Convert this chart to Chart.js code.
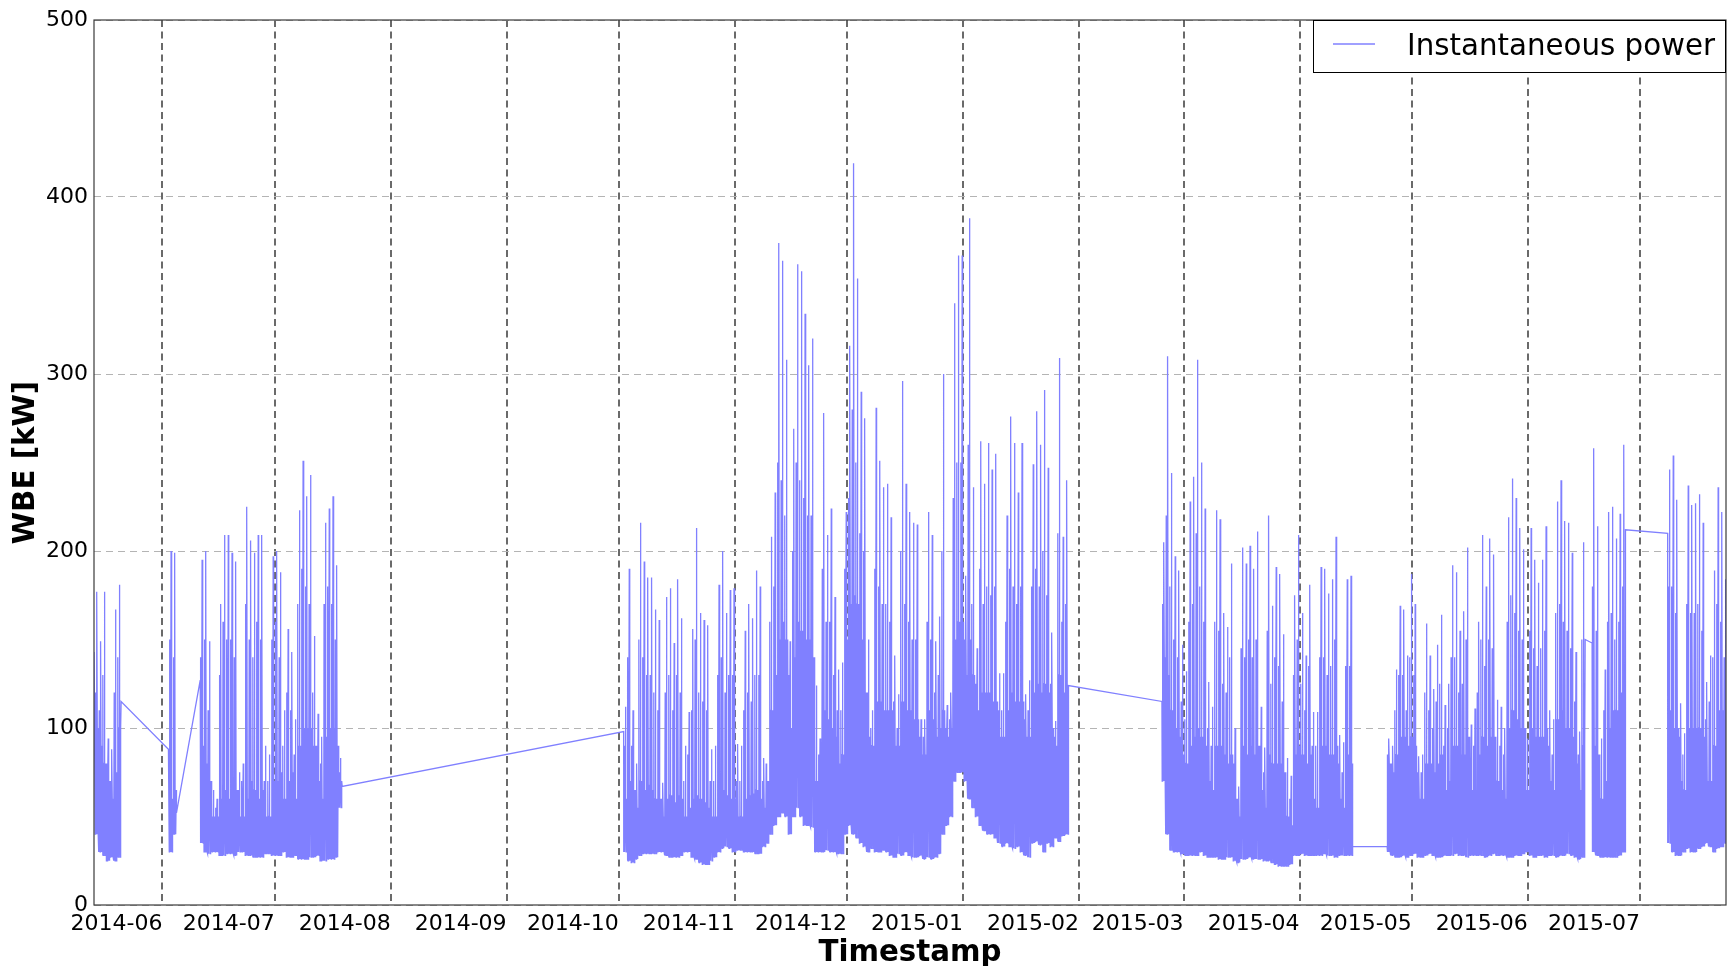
<!DOCTYPE html>
<html><head><meta charset="utf-8">
<script src="https://cdn.jsdelivr.net/npm/chart.js@4.4.1/dist/chart.umd.min.js"></script>
<style>html,body{margin:0;padding:0;background:#fff;}canvas{display:block;}</style>
</head><body>
<canvas id="c" width="1733" height="966"></canvas>
<script>
// x values are days since 2014-06-01
const monthLabels = ['2014-06','2014-07','2014-08','2014-09','2014-10','2014-11','2014-12','2015-01','2015-02','2015-03','2015-04','2015-05','2015-06','2015-07'];
const monthDays = [0,30,61,92,122,153,183,214,245,273,304,334,365,395];
const yTicks = [0,100,200,300,400,500];

// recording periods (start day, first/last samples around each gap)
const segStart    = [-18, 1.8, 10.1, 123.3, 267.25, 327.4, 382.2, 402.4];
const segFirstDay = [-18.3, 1.6, 10.1, 123.3, 267.2, 327.4, 382.2, 402.4];
const segFirstVal = [143, 88, 127, 98, 115, 33, 148, 210];
const segLastDay  = [-11.05, 3.75, 48.05, 242.25, 318.2, 380.35, 391.15, 418.5];
const segLastVal  = [115, 52, 67, 124, 33, 150, 212, 150];

// daily peak / secondary peak / typical daytime level / night minimum (kW)
const hiA  = [177,149,177,94,88,167,181];
const subA = [120,110,130,80,70,120,140];
const midA = [100,90,80,70,60,75,100];
const loA  = [40,30,28,25,27,25,27];

const hiB  = [200,199];
const subB = [150,140];
const midB = [60,65];
const loB  = [30,40];

const hiC  = [195,200,149,65,60,170,209,209,199,194,75,80,225,206,199,209,209,90,85,197,200,188,110,156,143,105,223,251,231,243,152,108,95,216,224,231,192,83];
const subC = [140,150,110,60,55,130,160,150,150,140,65,70,170,150,140,160,150,70,70,150,160,140,90,120,110,85,170,190,180,170,120,90,80,170,180,170,150,75];
const midC = [90,80,70,50,50,60,65,60,70,65,50,50,60,70,65,60,65,50,50,70,70,75,60,70,75,60,90,100,100,100,90,70,60,95,100,100,90,70];
const loC  = [35,30,29,30,30,28,28,29,29,28,30,30,28,28,27,27,27,29,29,28,28,28,30,27,27,28,26,26,26,27,27,28,25,25,26,26,27,55];

const hiD  = [112,190,110,80,216,194,185,185,167,161,69,174,179,148,184,162,90,109,156,213,165,161,158,88,90,181,200,165,178,179,91,90,155,170,162,189,180,83,69,208,233,374,364,308,149,269,362,358,334,305,320,124,94,278,209,224,174,133,137,222,316,419,354,290,275,150,110,281,251,236,238,219,141,119,296,238,222,216,215,105,105,222,209,149,163,300,113,120,340,367,367,186,388,236,145,262,238,261,246,255,131,131,220,276,261,233,261,119,127,249,279,260,291,247,154,104,309,208,240];
const subD = [90,140,90,65,150,140,130,130,120,110,60,120,130,110,130,120,70,85,110,150,120,115,110,70,70,130,140,120,130,130,70,70,110,120,115,130,130,70,80,160,180,250,240,220,130,200,250,240,230,220,220,100,85,190,160,160,130,110,110,190,230,280,250,210,200,120,100,190,180,170,170,160,115,100,200,170,160,150,150,95,95,160,150,120,130,200,100,105,230,250,250,150,260,170,125,190,170,180,175,180,110,110,160,190,180,170,180,105,110,180,190,180,200,175,125,95,210,160,170];
const midD = [60,70,65,55,70,65,68,65,60,60,50,60,62,58,62,60,50,55,60,62,60,58,55,50,50,58,65,62,60,60,50,50,60,62,63,65,60,55,70,110,130,150,160,150,100,140,160,155,150,150,140,70,65,110,105,100,95,80,85,150,170,175,170,150,120,95,90,115,115,110,110,110,90,90,115,110,110,105,105,85,85,110,105,95,100,110,95,100,150,160,160,130,150,130,110,120,120,120,115,115,95,95,110,120,115,115,115,95,95,120,125,120,125,120,100,90,130,120,120];
const loD  = [30,25,24,26,28,29,29,29,29,30,30,28,27,27,27,28,30,30,27,26,24,23,23,25,27,30,32,33,32,30,31,31,30,30,30,29,29,33,35,40,45,50,52,50,40,50,55,50,45,45,44,30,30,30,31,30,30,29,29,40,45,40,38,35,33,30,32,30,30,31,30,28,27,29,28,30,28,27,27,28,26,27,26,27,29,40,45,50,70,75,75,70,60,55,50,45,42,40,40,38,35,33,35,33,32,33,30,28,27,35,36,34,30,35,33,38,36,39,40];

const hiE  = [205,310,244,197,189,147,132,228,242,308,250,224,126,112,223,218,165,157,193,100,67,202,193,203,190,211,112,89,220,169,191,187,153,83,73,175,209,165,141,181,109,109,191,190,176,184,208,96,92,184,186];
const subE = [170,220,180,150,140,115,105,160,170,210,180,160,100,90,160,155,125,120,140,80,60,145,140,150,140,150,90,75,155,125,140,135,115,65,60,130,150,125,110,135,90,90,140,140,130,135,150,80,75,135,135];
const midE = [140,130,110,100,95,85,80,90,95,100,95,90,70,65,90,90,85,80,85,60,50,90,85,90,85,90,65,55,85,80,80,80,75,50,45,85,90,85,80,85,60,55,90,90,85,85,90,60,55,85,80];
const loE  = [70,40,31,30,30,29,28,28,28,28,30,28,27,27,27,26,26,27,27,25,24,26,26,27,26,26,26,25,25,24,23,22,22,22,23,28,28,29,28,28,28,28,28,29,28,28,27,28,28,28,28];

const hiF1  = [94,90,133,169,167,141,187,170,84,85,159,141,122,147,164,113,125,192,188,155,166,202,102,111,160,209,180,207,198,116,112,100,219,241,230,213,201,94,213,195,182,195,214,110,105,228,240,217,216,199,143,98,205];
const subF1 = [85,80,110,130,130,110,140,130,75,75,120,110,100,115,125,90,100,140,140,120,125,150,85,90,120,150,135,150,145,95,90,85,160,175,165,155,150,80,155,145,135,145,155,90,85,165,170,160,155,145,115,85,150];
const midF1 = [80,75,85,95,95,90,95,90,60,60,80,80,75,80,85,65,70,90,90,85,85,95,65,65,85,95,90,95,95,70,65,60,100,110,105,100,100,65,100,95,95,95,100,70,65,105,110,100,100,95,80,65,90];
const loF1  = [30,28,27,27,28,27,28,29,27,27,28,29,28,27,27,28,28,28,29,28,28,27,28,28,28,28,27,28,29,28,28,28,27,27,28,28,29,30,28,27,28,28,27,28,28,27,28,28,29,28,27,26,27];

const hiF2  = [258,214,94,133,222,225,207,221,260];
const subF2 = [180,155,80,110,160,165,150,160,180];
const midF2 = [90,85,60,70,100,110,110,120,130];
const loF2  = [30,28,27,27,27,27,27,28,30];

const hiG  = [246,254,229,114,97,237,226,227,232,216,126,141,189,236,222,184];
const subG = [180,180,165,95,85,170,165,165,170,155,105,115,140,170,160,140];
const midG = [110,100,100,70,65,100,100,100,100,95,70,70,90,110,110,120];
const loG  = [35,30,28,28,30,32,30,30,32,33,35,33,30,32,33,35];

const segHi  = [hiA, hiB, hiC, hiD, hiE, hiF1, hiF2, hiG];
const segSub = [subA, subB, subC, subD, subE, subF1, subF2, subG];
const segMid = [midA, midB, midC, midD, midE, midF1, midF2, midG];
const segLo  = [loA, loB, loC, loD, loE, loF1, loF2, loG];

// within each day the 15-min samples swing between the night level and the
// daytime level, with a secondary and a main daily peak
const dayShape = ['lo','sub','lo','mid','lo','mid','hi','mid','lo','mid','lo','mid'];
const dayStep = 0.08;

const points = [];
for (let s = 0; s < segStart.length; s++) {
  points.push({x: segFirstDay[s], y: segFirstVal[s]});
  const vals = {hi: segHi[s], sub: segSub[s], mid: segMid[s], lo: segLo[s]};
  for (let k = 0; k < segHi[s].length; k++) {
    const d = segStart[s] + k;
    dayShape.forEach((kind, j) => {
      points.push({x: d + 0.02 + j * dayStep, y: vals[kind][k]});
    });
  }
  points.push({x: segLastDay[s], y: segLastVal[s]});
}

const FONT = 'DejaVu Sans';

const framePlugin = {
  id: 'frame',
  afterDraw(chart) {
    const {ctx, chartArea: a} = chart;
    ctx.save();
    ctx.strokeStyle = '#3a3a3a';
    ctx.lineWidth = 1.2;
    ctx.strokeRect(a.left, a.top, a.right - a.left, a.bottom - a.top);
    // legend box
    const w = 413, h = 52;
    const x0 = a.right - w, y0 = a.top;
    ctx.fillStyle = '#fff';
    ctx.fillRect(x0, y0, w, h);
    ctx.strokeStyle = '#000';
    ctx.lineWidth = 1;
    ctx.strokeRect(x0 + 0.5, y0 + 0.5, w - 1, h);
    ctx.strokeStyle = '#8080ff';
    ctx.lineWidth = 1.3;
    ctx.beginPath();
    ctx.moveTo(x0 + 20, y0 + 24);
    ctx.lineTo(x0 + 62, y0 + 24);
    ctx.stroke();
    ctx.fillStyle = '#000';
    ctx.font = '29.3px "' + FONT + '"';
    ctx.textAlign = 'left';
    ctx.textBaseline = 'middle';
    ctx.fillText(chart.data.datasets[0].label, x0 + 94, y0 + 27);
    ctx.restore();
  }
};

new Chart(document.getElementById('c'), {
  type: 'line',
  data: {datasets: [{
    label: 'Instantaneous power',
    data: points,
    borderColor: '#8080ff',
    borderWidth: 1.3,
    pointRadius: 0,
    tension: 0,
    fill: false
  }]},
  options: {
    responsive: false,
    animation: false,
    layout: {padding: {top: 20, right: 7, left: 0, bottom: 0}},
    plugins: {legend: {display: false}, tooltip: {enabled: false}},
    scales: {
      x: {
        type: 'linear', min: -18.3, max: 418,
        afterBuildTicks: s => { s.ticks = monthDays.map(v => ({value: v})); },
        afterFit: s => { s.height = 61; },
        ticks: {
          callback: v => monthLabels[monthDays.indexOf(v)],
          align: 'end', maxRotation: 0, autoSkip: false,
          font: {family: FONT, size: 22}, color: '#000', padding: 6
        },
        grid: {color: '#6a6a6a', lineWidth: 2, drawTicks: false},
        border: {display: false, dash: [7, 4.5]},
        title: {display: true, text: 'Timestamp', color: '#000',
          font: {family: FONT, size: 29.3, weight: 'bold', lineHeight: 0.8},
          padding: {top: 0, bottom: 1}}
      },
      y: {
        min: 0, max: 500,
        afterBuildTicks: s => { s.ticks = yTicks.map(v => ({value: v})); },
        afterFit: s => { s.width = 94; },
        ticks: {font: {family: FONT, size: 22}, color: '#000', padding: 6},
        grid: {color: '#b4b4b4', lineWidth: 1, drawTicks: false},
        border: {display: false, dash: [7, 5]},
        title: {display: true, text: 'WBE [kW]', color: '#000',
          font: {family: FONT, size: 29.3, weight: 'bold', lineHeight: 1.0},
          padding: {top: 12, bottom: 0}}
      }
    }
  },
  plugins: [framePlugin]
});
</script>
</body></html>
